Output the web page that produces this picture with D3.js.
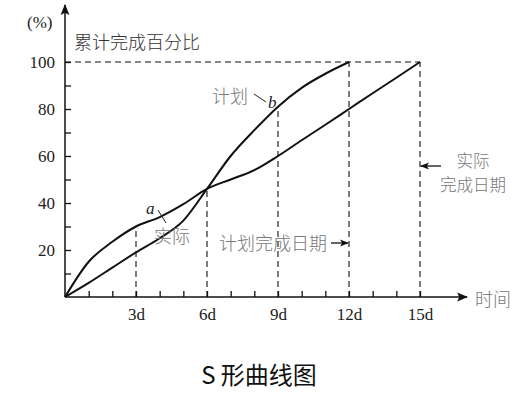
<!DOCTYPE html>
<html>
<head>
<meta charset="utf-8">
<script src="https://cdn.jsdelivr.net/npm/d3@7"></script>
<style>
  body { margin: 0; background: #fff; }
  svg { display: block; }
  .tick text { font-family: "Liberation Serif", serif; font-size: 17px; fill: #222; }
  .tick line { stroke: #111; stroke-width: 1.3; }
  .guide { stroke: #111; stroke-width: 1.1; stroke-dasharray: 6,4; fill: none; }
  .curve { stroke: #111; stroke-width: 2; fill: none; }
  .cjk { font-family: "Noto Sans CJK SC", sans-serif; font-weight: 300; fill: #777; font-size: 18px; }
</style>
</head>
<body>
<svg id="chart" width="529" height="396"></svg>
<script>
// time in days, and cumulative % complete
const days = [0, 1, 2, 3, 4, 5, 6, 7, 8, 9, 10, 11, 12, 13, 14, 15];
const planned = [0, 6, 12.5, 19, 25, 32.5, 46, 60, 71, 81, 89, 95, 100];
const actual = [0, 15, 23.5, 30, 34, 39.5, 46, 50, 54, 60, 66.7, 73.3, 80, 86.7, 93.3, 100];
const dayLabels = [3, 6, 9, 12, 15];
const pctLabels = [20, 40, 60, 80, 100];

const svg = d3.select('#chart');

// origin of the chart is at (65, 297)
const x = d3.scaleLinear().domain([0, 15]).range([65, 420]);
const y = d3.scaleLinear().domain([0, 100]).range([297, 62]);

// arrow heads for the two axes and the date pointers
const defs = svg.append('defs');
defs.append('marker')
    .attr('id', 'arrow')
    .attr('viewBox', '0 0 10 10')
    .attr('refX', 9).attr('refY', 5)
    .attr('markerWidth', 9).attr('markerHeight', 9)
    .attr('markerUnits', 'userSpaceOnUse')
    .attr('orient', 'auto')
  .append('path')
    .attr('d', 'M0,1 L10,5 L0,9 L2.5,5 Z')
    .attr('fill', '#111');
defs.append('marker')
    .attr('id', 'axisArrow')
    .attr('viewBox', '0 0 10 10')
    .attr('refX', 9).attr('refY', 5)
    .attr('markerWidth', 11).attr('markerHeight', 11)
    .attr('markerUnits', 'userSpaceOnUse')
    .attr('orient', 'auto')
  .append('path')
    .attr('d', 'M0,1 L10,5 L0,9 L2,5 Z')
    .attr('fill', '#111');

// dashed guides
const guides = svg.append('g');
guides.append('line').attr('class', 'guide')
    .attr('x1', x(0)).attr('x2', x(15))
    .attr('y1', y(100)).attr('y2', y(100));
// vertical guides, each going up to the curve it marks
const verticals = [[3, actual[3]], [6, actual[6]], [9, planned[9]], [12, 100], [15, 100]];
guides.selectAll('line.v').data(verticals).enter()
  .append('line').attr('class', 'guide')
    .attr('x1', d => x(d[0])).attr('x2', d => x(d[0]))
    .attr('y1', y(0)).attr('y2', d => y(d[1]));

// axes, with ticks pointing inward
svg.append('g')
    .attr('transform', `translate(0,${y(0)})`)
    .call(d3.axisBottom(x)
        .tickValues(d3.range(1, 16))
        .tickSizeInner(-6).tickSizeOuter(0).tickPadding(11)
        .tickFormat(d => dayLabels.includes(d) ? d + 'd' : ''))
    .call(g => g.select('.domain').remove());

svg.append('g')
    .attr('transform', `translate(${x(0)},0)`)
    .call(d3.axisLeft(y)
        .tickValues(d3.range(10, 101, 10))
        .tickSizeInner(-6).tickSizeOuter(0).tickPadding(10)
        .tickFormat(d => pctLabels.includes(d) ? d : ''))
    .call(g => g.select('.domain').remove());

svg.append('line')
    .attr('x1', x(0)).attr('y1', y(0)).attr('x2', 467).attr('y2', y(0))
    .attr('stroke', '#111').attr('stroke-width', 1.5)
    .attr('marker-end', 'url(#axisArrow)');
svg.append('line')
    .attr('x1', x(0)).attr('y1', y(0)).attr('x2', x(0)).attr('y2', 5)
    .attr('stroke', '#111').attr('stroke-width', 1.5)
    .attr('marker-end', 'url(#axisArrow)');

// the two S curves
const line = d3.line()
    .x(d => x(d[0]))
    .y(d => y(d[1]))
    .curve(d3.curveMonotoneX);

svg.append('path').attr('class', 'curve')
    .attr('d', line(planned.map((v, i) => [days[i], v])));
svg.append('path').attr('class', 'curve')
    .attr('d', line(actual.map((v, i) => [days[i], v])));

// axis titles
svg.append('text')
    .attr('x', 27).attr('y', 28)
    .attr('font-family', '"Liberation Serif", serif').attr('font-size', 17).attr('fill', '#222')
    .text('(%)');
svg.append('text').attr('class', 'cjk')
    .attr('x', 74).attr('y', 49).style('fill', '#333')
    .text('累计完成百分比');
svg.append('text').attr('class', 'cjk')
    .attr('x', 475).attr('y', 306)
    .text('时间');

// curve labels
svg.append('text').attr('class', 'cjk')
    .attr('x', 212).attr('y', 103)
    .text('计划');
svg.append('line')
    .attr('x1', 254).attr('y1', 94).attr('x2', 266).attr('y2', 102)
    .attr('stroke', '#222').attr('stroke-width', 1);
svg.append('text')
    .attr('x', 268).attr('y', 108)
    .attr('font-family', '"Liberation Serif", serif').attr('font-style', 'italic')
    .attr('font-size', 17).attr('fill', '#222')
    .text('b');

svg.append('text')
    .attr('x', 146).attr('y', 214)
    .attr('font-family', '"Liberation Serif", serif').attr('font-style', 'italic')
    .attr('font-size', 17).attr('fill', '#222')
    .text('a');
svg.append('line')
    .attr('x1', 158).attr('y1', 210).attr('x2', 166).attr('y2', 223)
    .attr('stroke', '#222').attr('stroke-width', 1);
svg.append('text').attr('class', 'cjk')
    .attr('x', 154).attr('y', 243)
    .text('实际');

// completion date pointers
svg.append('text').attr('class', 'cjk')
    .attr('x', 219).attr('y', 250)
    .text('计划完成日期');
svg.append('line')
    .attr('x1', 331).attr('y1', 243).attr('x2', x(12) - 1).attr('y2', 243)
    .attr('stroke', '#111').attr('stroke-width', 1.3)
    .attr('marker-end', 'url(#arrow)');

svg.append('text').attr('class', 'cjk')
    .attr('x', 473).attr('y', 167).attr('text-anchor', 'middle')
    .style('font-size', '16.5px')
    .text('实际');
svg.append('text').attr('class', 'cjk')
    .attr('x', 473).attr('y', 191).attr('text-anchor', 'middle')
    .style('font-size', '16.5px')
    .text('完成日期');
svg.append('line')
    .attr('x1', 441).attr('y1', 166).attr('x2', x(15) + 1).attr('y2', 166)
    .attr('stroke', '#111').attr('stroke-width', 1.3)
    .attr('marker-end', 'url(#arrow)');

// caption
svg.append('text')
    .attr('x', 259).attr('y', 384).attr('text-anchor', 'middle')
    .attr('font-family', '"Noto Sans CJK SC", sans-serif').attr('font-size', 24).attr('fill', '#111')
    .text('S 形曲线图');
</script>
</body>
</html>
